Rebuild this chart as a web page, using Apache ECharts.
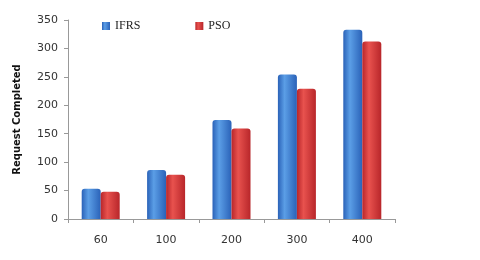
<!DOCTYPE html>
<html><head><meta charset="utf-8">
<script src="https://cdn.jsdelivr.net/npm/echarts@6/dist/echarts.min.js"></script>
<style>html,body{margin:0;padding:0;background:#fff}#c{width:480px;height:260px}</style>
</head><body><div id="c"></div>
<script>
const categories = ['60', '100', '200', '300', '400'];
const ifrs = [53, 86, 174, 254, 333];
const pso = [48, 78, 159, 229, 312];
const yTicks = [0, 50, 100, 150, 200, 250, 300, 350];

function grad(edge, mid) {
  return new echarts.graphic.LinearGradient(0, 0, 1, 0, [
    {offset: 0, color: edge}, {offset: 0.35, color: mid}, {offset: 1, color: edge}
  ]);
}
const chart = echarts.init(document.getElementById('c'));
chart.setOption({
  animation: false,
  backgroundColor: '#fff',
  legend: {
    data: ['IFRS', 'PSO'],
    left: 97, top: 15, itemGap: 55,
    itemWidth: 8, itemHeight: 8,
    icon: 'rect',
    textStyle: {fontFamily: 'Liberation Serif', fontSize: 12, color: '#222'}
  },
  grid: {left: 68, right: 85, top: 20, bottom: 41},
  xAxis: {
    type: 'category', data: categories,
    axisLine: {lineStyle: {color: '#999'}},
    axisTick: {show: true, length: 4, lineStyle: {color: '#999'}},
    axisLabel: {fontFamily: 'DejaVu Sans', fontSize: 11, color: '#333', margin: 16}
  },
  yAxis: {
    type: 'value', min: yTicks[0], max: yTicks[yTicks.length - 1], interval: 50,
    name: 'Request Completed', nameLocation: 'middle', nameGap: 46, nameRotate: 90,
    nameTextStyle: {fontFamily: 'DejaVu Sans', fontWeight: 'bold', fontSize: 10, color: '#111'},
    axisLine: {show: true, lineStyle: {color: '#999'}},
    axisTick: {show: true, length: 4, lineStyle: {color: '#999'}},
    splitLine: {show: false},
    axisLabel: {fontFamily: 'DejaVu Sans', fontSize: 11, color: '#333', margin: 10}
  },
  series: [
    {name: 'IFRS', type: 'bar', data: ifrs, barWidth: 19, barGap: '0%',
     itemStyle: {color: grad('#2a62b8', '#5b9ee6'), borderRadius: [3, 3, 0, 0]}},
    {name: 'PSO', type: 'bar', data: pso, barWidth: 19,
     itemStyle: {color: grad('#b8262a', '#e8524e'), borderRadius: [3, 3, 0, 0]}}
  ]
});
</script></body></html>
